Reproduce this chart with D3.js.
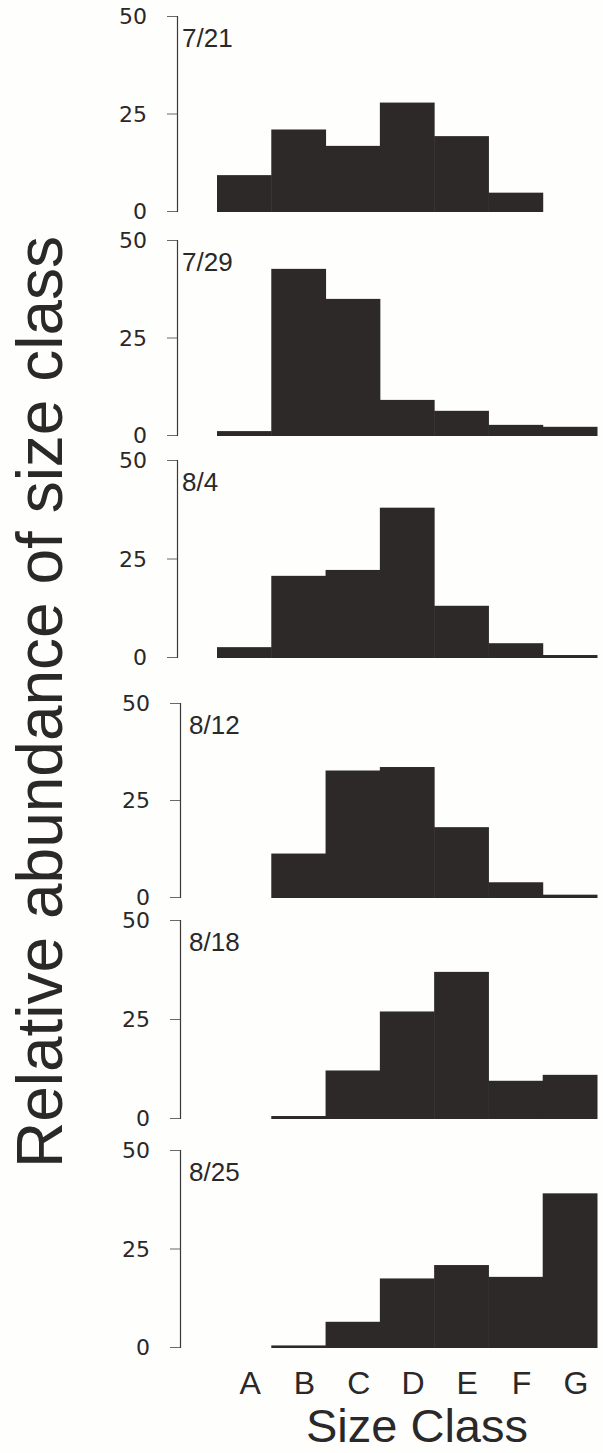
<!DOCTYPE html>
<html>
<head>
<meta charset="utf-8">
<script src="https://cdn.jsdelivr.net/npm/d3@7"></script>
<style>
  html, body { margin: 0; padding: 0; background: #fefefc; }
  svg { display: block; }
  text { font-family: "Liberation Sans", Arial, sans-serif; fill: #2a2828; }
</style>
</head>
<body>
<script>
// Size classes along the horizontal axis
const sizeClasses = ["A", "B", "C", "D", "E", "F", "G"];

// Sampling dates, one histogram each
const dates = ["7/21", "7/29", "8/4", "8/12", "8/18", "8/25"];

// Relative abundance (%) of each size class per date (null = no bar)
const abund0721 = [9.2, 20.9, 16.7, 27.8, 19.2, 4.7, null];
const abund0729 = [1.0, 42.6, 34.9, 9.0, 6.2, 2.6, 2.1];
const abund0804 = [2.5, 20.6, 22.1, 37.9, 13.0, 3.5, 0.5];
const abund0812 = [null, 11.2, 32.6, 33.5, 18.0, 3.8, 0.6];
const abund0818 = [null, 0.5, 12.0, 26.9, 36.9, 9.4, 10.9];
const abund0825 = [null, 0.4, 6.4, 17.4, 20.8, 17.8, 39.0];

// Y axis tick values
const yTicks = [0, 25, 50];

const series = [abund0721, abund0729, abund0804, abund0812, abund0818, abund0825];

// Panel layout: top (50 %) and bottom (0 %) of each panel, and axis x
const panelTop = [16, 240, 460, 703, 920, 1150];
const panelBottom = [211, 435, 657, 897, 1118, 1347];
const axisX = [177, 177, 177, 180, 180, 180];

const W = 603, H = 1453;
const svg = d3.select("body").append("svg")
  .attr("width", W).attr("height", H);

const x = d3.scaleBand().domain(sizeClasses).range([217, 597]).paddingInner(0).paddingOuter(0);

const barColor = "#2d2929";

series.forEach((vals, i) => {
  const y = d3.scaleLinear().domain([0, 50]).range([panelBottom[i], panelTop[i]]);
  const g = svg.append("g");

  // bars
  const rows = sizeClasses.map((c, j) => ({ c, v: vals[j] })).filter(d => d.v !== null);
  g.selectAll("rect").data(rows).join("rect")
    .attr("x", d => x(d.c))
    .attr("width", x.bandwidth() + 0.5)
    .attr("y", d => y(d.v))
    .attr("height", d => Math.max(1.5, y(0) - y(d.v) + 1))
    .attr("fill", barColor);

  // y axis
  const axis = d3.axisLeft(y).tickValues(yTicks).tickSize(10).tickPadding(20).tickFormat(d3.format("d"));
  const ag = g.append("g").attr("transform", `translate(${axisX[i]},0)`).call(axis);
  ag.select(".domain").attr("stroke", "#3a3838").attr("stroke-width", 1.2);
  ag.selectAll(".tick line").attr("stroke", "#6a6868").attr("stroke-width", 1);
  ag.selectAll(".tick text")
    .style("font-family", "'DejaVu Sans', sans-serif")
    .style("font-size", "22px")
    .attr("fill", "#2a2828")
    .attr("dy", "0.36em");

  // date label
  g.append("text")
    .attr("x", axisX[i] + (i < 3 ? 5 : 9))
    .attr("y", panelTop[i] + 31)
    .style("font-size", "26px")
    .text(dates[i]);
});

// category labels under last panel
svg.append("g").selectAll("text").data(sizeClasses).join("text")
  .attr("x", d => x(d) + x.bandwidth() / 2 + 6)
  .attr("y", 1394)
  .attr("text-anchor", "middle")
  .style("font-size", "32px")
  .text(d => d);

// axis titles
svg.append("text")
  .attr("x", 417).attr("y", 1442)
  .attr("text-anchor", "middle")
  .style("font-size", "47px")
  .text("Size Class");

svg.append("text")
  .attr("transform", "translate(62,702) rotate(-90)")
  .attr("text-anchor", "middle")
  .style("font-size", "64px")
  .text("Relative abundance of size class");
</script>
</body>
</html>
